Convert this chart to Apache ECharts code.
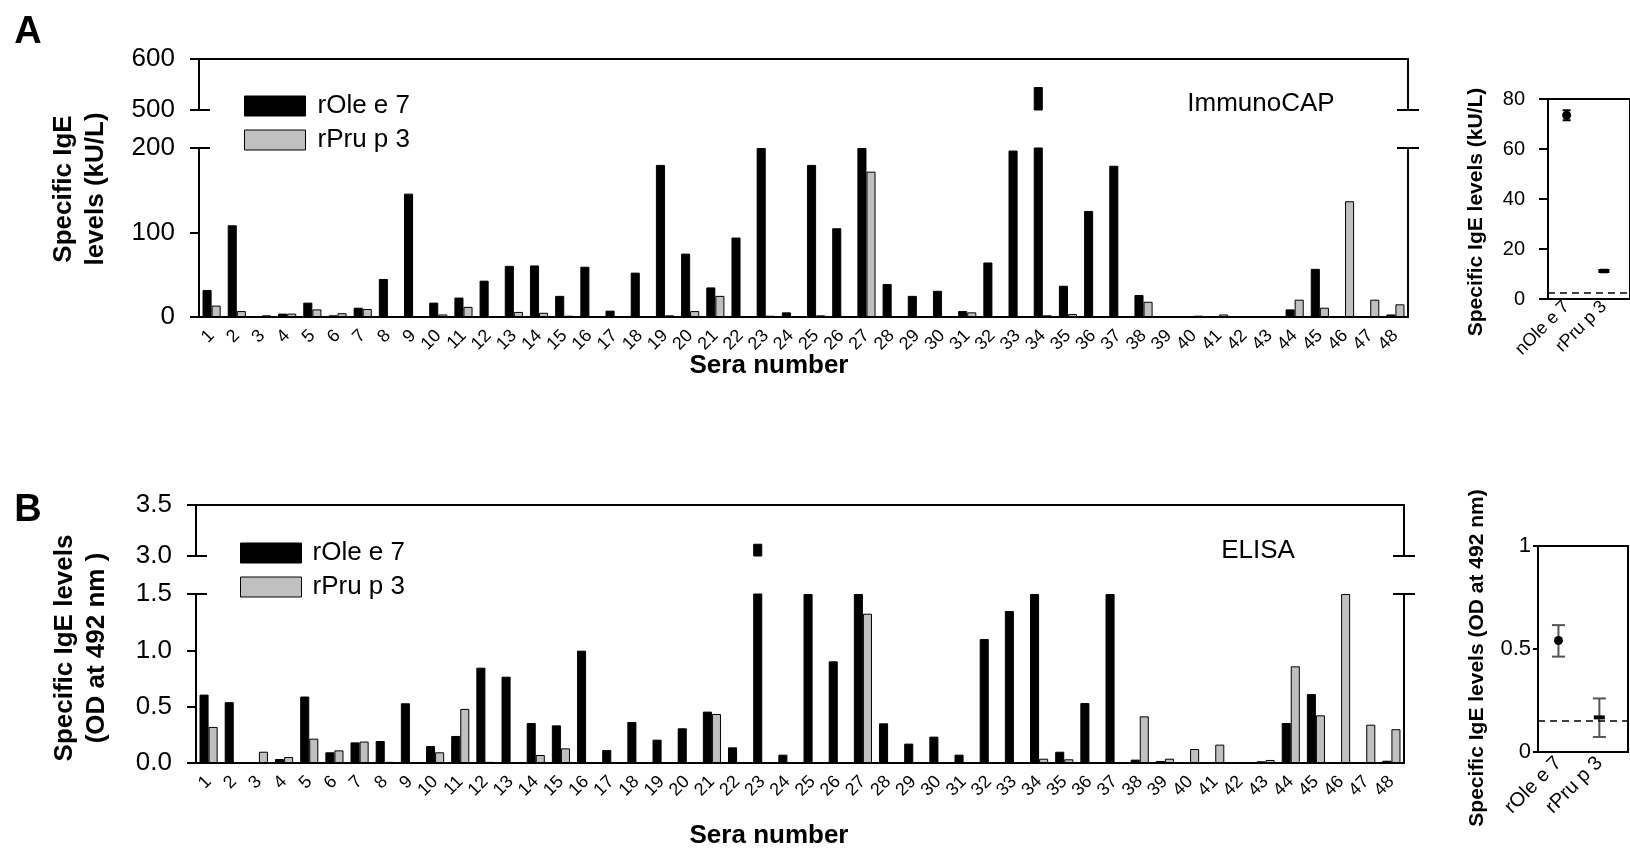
<!DOCTYPE html>
<html>
<head>
<meta charset="utf-8">
<title>Specific IgE levels to rOle e 7 and rPru p 3</title>
<script src="https://cdn.jsdelivr.net/npm/echarts@6/dist/echarts.min.js"></script>
<style>
  html, body { margin: 0; padding: 0; background: #fff; }
  #chart { width: 1630px; height: 850px; }
</style>
</head>
<body>
<div id="chart"></div>
<script>
// ---- data ----
const seraNumbers = ['1','2','3','4','5','6','7','8','9','10','11','12','13','14','15','16',
  '17','18','19','20','21','22','23','24','25','26','27','28','29','30','31','32',
  '33','34','35','36','37','38','39','40','41','42','43','44','45','46','47','48'];
const allergenNames = ['rOle e 7', 'rPru p 3'];

// ImmunoCAP, kU/L
const capOle = [32, 108.5, 0, 4, 17, 2, 11, 45, 146, 17, 23, 43, 60.5, 61, 25, 59.5,
  7.5, 52.5, 180, 75, 35, 94, 200, 5.5, 180, 105, 200, 39, 25, 31, 7, 64.5,
  197, 545, 37, 125.5, 179, 26, 0, 0, 0, 0, 0, 9, 57, 0, 0, 3];
const capPru = [13.5, 7, 2, 4, 9, 4.5, 9.5, 0, 0, 3, 12, 0, 6, 5, 1.5, 0,
  0, 0, 2, 7, 25, 0, 1.5, 0, 2, 0, 172, 0, 0, 0, 5.5, 0,
  0, 2, 3.5, 0, 0, 18, 1, 1.5, 3, 0, 0, 20.5, 11, 137, 20.5, 15];

// ELISA, OD at 492 nm
const elisaOle = [0.607, 0.54, 0, 0.035, 0.59, 0.095, 0.183, 0.195, 0.53, 0.15, 0.24, 0.846, 0.766, 0.355, 0.334, 0.997,
  0.115, 0.364, 0.207, 0.308, 0.456, 0.139, 3.12, 0.074, 1.5, 0.902, 1.5, 0.352, 0.172, 0.234, 0.074, 1.10,
  1.349, 1.5, 0.10, 0.532, 1.5, 0.03, 0.018, 0, 0, 0, 0.015, 0.355, 0.612, 0, 0, 0.02];
const elisaPru = [0.32, 0, 0.10, 0.053, 0.216, 0.112, 0.19, 0.01, 0, 0.095, 0.48, 0.01, 0, 0.071, 0.13, 0,
  0, 0, 0, 0, 0.435, 0, 0, 0, 0, 0, 1.325, 0, 0, 0, 0, 0,
  0, 0.038, 0.033, 0, 0, 0.414, 0.038, 0.124, 0.163, 0, 0.027, 0.858, 0.423, 1.5, 0.34, 0.30];

// group summaries (mean with error range) and positivity cut-offs
const capGroups = ['nOle e 7', 'rPru p 3'];
const capMean = [73.5, 11.2];
const capLow = [71.5, 10.7];
const capHigh = [75.5, 11.7];
const capCutoff = 2.6;

const elisaGroups = ['rOle e 7', 'rPru p 3'];
const elisaMean = [0.541, 0.168];
const elisaLow = [0.463, 0.073];
const elisaHigh = [0.616, 0.26];
const elisaCutoff = 0.148;

// ---- chart construction ----
const FONT = '"Liberation Sans", Arial, Helvetica, sans-serif';
const AXIS = { color: '#000', width: 2 };
const BAR_COLORS = ['#000000', '#c0c0c0'];
const MEAN_MARKS = [{ symbol: 'circle', size: 9 }, { symbol: 'rect', size: [11, 4] }];

const grids = [], xAxes = [], yAxes = [], series = [];

function mainYAxis(gridIndex, min, max, interval, fmt) {
  return {
    type: 'value', gridIndex, min, max, interval, position: 'left',
    axisLine: { show: true, lineStyle: AXIS },
    axisTick: { show: true, inside: false, length: 9, lineStyle: AXIS },
    axisLabel: { margin: 24, fontSize: 26, color: '#000', fontFamily: FONT, formatter: fmt },
    splitLine: { show: false }
  };
}

// short mark across an axis where the scale is broken
function breakTickAxis(gridIndex, min, max, at, position, inside, withLine) {
  return {
    type: 'value', gridIndex, min, max, position,
    axisLine: { show: withLine, lineStyle: AXIS },
    axisTick: { show: true, inside, length: 11, customValues: [at], lineStyle: AXIS },
    axisLabel: { show: false },
    splitLine: { show: false }
  };
}

function barSeries(idx, xi, yi, data) {
  return {
    type: 'bar', name: allergenNames[idx], xAxisIndex: xi, yAxisIndex: yi, data,
    clip: true, barGap: '0%', barCategoryGap: '28%',
    itemStyle: { color: BAR_COLORS[idx], borderColor: '#000', borderWidth: 1 },
    emphasis: { disabled: true }, silent: true
  };
}

function brokenPanel(p) {
  const gLow = grids.push({ left: p.left, top: p.lowTop, width: p.width, height: p.lowHeight }) - 1;
  const gUp = grids.push({ left: p.left, top: p.upTop, width: p.width, height: p.upHeight }) - 1;

  const xLow = xAxes.push({
    type: 'category', gridIndex: gLow, data: seraNumbers, position: 'bottom',
    axisLine: { onZero: false, lineStyle: AXIS },
    axisTick: { alignWithLabel: true, length: 8, lineStyle: AXIS },
    axisLabel: { interval: 0, rotate: 45, margin: 16, fontSize: 18, color: '#000', fontFamily: FONT }
  }) - 1;
  const xUp = xAxes.push({
    type: 'category', gridIndex: gUp, data: seraNumbers, position: 'top',
    axisLine: { onZero: false, lineStyle: AXIS },
    axisTick: { show: false }, axisLabel: { show: false }
  }) - 1;

  const yLow = yAxes.push(mainYAxis(gLow, 0, p.lowMax, p.lowStep, p.fmt)) - 1;
  yAxes.push(breakTickAxis(gLow, 0, p.lowMax, p.lowMax, 'left', true, false));
  yAxes.push(breakTickAxis(gLow, 0, p.lowMax, p.lowMax, 'right', false, true));
  yAxes.push(breakTickAxis(gLow, 0, p.lowMax, p.lowMax, 'right', true, false));

  const yUp = yAxes.push(mainYAxis(gUp, p.upMin, p.upMax, p.upStep, p.fmt)) - 1;
  yAxes.push(breakTickAxis(gUp, p.upMin, p.upMax, p.upMin, 'left', true, false));
  yAxes.push(breakTickAxis(gUp, p.upMin, p.upMax, p.upMin, 'right', false, true));
  yAxes.push(breakTickAxis(gUp, p.upMin, p.upMax, p.upMin, 'right', true, false));

  [[xLow, yLow], [xUp, yUp]].forEach(([xi, yi]) => {
    series.push(barSeries(0, xi, yi, p.ole));
    series.push(barSeries(1, xi, yi, p.pru));
  });
}

function insetPanel(p) {
  const g = grids.push({
    left: p.left, top: p.top, width: p.width, height: p.height,
    show: true, borderColor: '#000', borderWidth: 2
  }) - 1;
  const xi = xAxes.push({
    type: 'value', gridIndex: g, min: 0.5, max: 2.7, position: 'bottom',
    axisLine: { show: true, onZero: false, lineStyle: AXIS },
    axisTick: { show: false }, splitLine: { show: false },
    axisLabel: {
      customValues: [1, 2], formatter: v => p.groups[Math.round(v) - 1],
      rotate: 45, margin: p.catMargin, fontSize: p.catSize, color: '#000', fontFamily: FONT
    }
  }) - 1;
  const yi = yAxes.push({
    type: 'value', gridIndex: g, min: 0, max: p.max, interval: p.step, position: 'left',
    axisLine: { show: true, lineStyle: AXIS },
    axisTick: { show: true, length: p.tickLen, lineStyle: AXIS },
    axisLabel: { margin: p.labelMargin, fontSize: p.fontSize, color: '#000', fontFamily: FONT },
    splitLine: { show: false }
  }) - 1;

  series.push({
    type: 'custom', xAxisIndex: xi, yAxisIndex: yi, silent: true, z: 3,
    data: p.low.map((l, i) => [i + 1, l, p.high[i]]),
    encode: { x: 0, y: [1, 2] },
    renderItem(params, api) {
      const x = api.value(0);
      const a = api.coord([x, api.value(1)]);
      const b = api.coord([x, api.value(2)]);
      const st = { stroke: p.errColor, lineWidth: 2 };
      const h = p.capHalf;
      return {
        type: 'group', children: [
          { type: 'line', shape: { x1: a[0], y1: a[1], x2: b[0], y2: b[1] }, style: st },
          { type: 'line', shape: { x1: a[0] - h, y1: a[1], x2: a[0] + h, y2: a[1] }, style: st },
          { type: 'line', shape: { x1: b[0] - h, y1: b[1], x2: b[0] + h, y2: b[1] }, style: st }
        ]
      };
    }
  });
  series.push({
    type: 'scatter', xAxisIndex: xi, yAxisIndex: yi, silent: true, z: 4,
    data: p.mean.map((m, i) => ({ value: [i + 1, m], symbol: MEAN_MARKS[i].symbol, symbolSize: MEAN_MARKS[i].size })),
    itemStyle: { color: '#000', opacity: 1 },
    markLine: {
      silent: true, symbol: 'none', label: { show: false },
      lineStyle: { color: '#000', width: 1.5, type: [7, 5] },
      data: [{ yAxis: p.cutoff }]
    }
  });
}

// A: ImmunoCAP
brokenPanel({
  left: 199, width: 1209, lowTop: 148, lowHeight: 169, upTop: 59, upHeight: 51,
  lowMax: 200, lowStep: 100, upMin: 500, upMax: 600, upStep: 100,
  fmt: v => String(v), ole: capOle, pru: capPru
});
// B: ELISA
brokenPanel({
  left: 196, width: 1208, lowTop: 594, lowHeight: 169, upTop: 505, upHeight: 51,
  lowMax: 1.5, lowStep: 0.5, upMin: 3.0, upMax: 3.5, upStep: 0.5,
  fmt: v => v.toFixed(1), ole: elisaOle, pru: elisaPru
});
insetPanel({
  left: 1548, top: 99, width: 90, height: 200, max: 80, step: 20,
  tickLen: 9, labelMargin: 23, fontSize: 20, catSize: 18, catMargin: 5, groups: capGroups,
  mean: capMean, low: capLow, high: capHigh, cutoff: capCutoff,
  errColor: '#000', capHalf: 4
});
insetPanel({
  left: 1538, top: 546, width: 90, height: 206, max: 1, step: 0.5,
  tickLen: 5, labelMargin: 7, fontSize: 22, catSize: 20, catMargin: 8, groups: elisaGroups,
  mean: elisaMean, low: elisaLow, high: elisaHigh, cutoff: elisaCutoff,
  errColor: '#555', capHalf: 6.5
});

function legendAt(left, top, textGap) {
  return {
    left, top, padding: 0, orient: 'vertical', icon: 'rect', itemWidth: 61, itemHeight: 20, itemGap: 8,
    selectedMode: false, data: allergenNames,
    itemStyle: { borderColor: '#000', borderWidth: 1 },
    textStyle: { fontSize: 26, fontFamily: FONT, color: '#000', lineHeight: 20, padding: [0, 0, 0, textGap] }
  };
}

function label(text, x, y, size, bold, rotated) {
  return {
    type: 'text', x, y, rotation: rotated ? Math.PI / 2 : 0, silent: true,
    style: {
      text, fill: '#000', fontSize: size, fontWeight: bold ? 'bold' : 'normal', fontFamily: FONT,
      align: 'center', verticalAlign: 'middle', lineHeight: 32
    }
  };
}

const chart = echarts.init(document.getElementById('chart'));
chart.setOption({
  animation: false,
  backgroundColor: '#fff',
  grid: grids,
  xAxis: xAxes,
  yAxis: yAxes,
  legend: [legendAt(244, 93, 7), legendAt(240, 540, 6)],
  series,
  graphic: [
    label('A', 28, 33, 38, true, false),
    label('B', 28, 511, 38, true, false),
    label('Specific IgE\nlevels (kU/L)', 80, 189, 26, true, true),
    label('Specific IgE levels\n(OD at 492 nm )', 81, 648, 26, true, true),
    label('Sera number', 769, 366, 26, true, false),
    label('Sera number', 769, 836, 26, true, false),
    label('ImmunoCAP', 1261, 104, 26, false, false),
    label('ELISA', 1258, 551, 26, false, false),
    label('Specific IgE levels (kU/L)', 1476, 212, 21, true, true),
    label('Specific IgE levels (OD at 492 nm)', 1477, 658, 21, true, true)
  ]
});
</script>
</body>
</html>
